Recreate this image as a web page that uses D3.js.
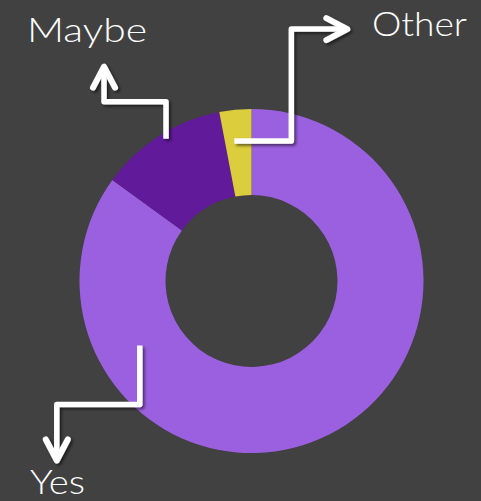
<!DOCTYPE html>
<html>
<head>
<meta charset="utf-8">
<script src="https://cdn.jsdelivr.net/npm/d3@7"></script>
<style>
  html, body { margin: 0; padding: 0; background: #414141; }
  svg { display: block; }
</style>
</head>
<body>
<svg id="chart" width="481" height="501"></svg>
<script>
// Survey answers (percent of respondents)
const categories = ["Yes", "Maybe", "Other"];
const values = [85, 12, 3];
const colors = ["#9b60df", "#611a99", "#dccd3c"];

// Callout layout: anchor on the ring (angle in degrees clockwise from top, radius in px),
// then elbow legs as [dx, dy] steps, then label start position and width.
const callouts = [
  { anchor: [240, 129], legs: [[0, 59], [-83, 0], [0, 56]], label: [30, 494], width: 55 },
  { anchor: [329, 166], legs: [[0, -37], [-62, 0], [0, -35]], label: [27, 42], width: 120 },
  { anchor: [353, 141], legs: [[57, 0], [0, -112], [56, 0]], label: [372, 36], width: 95 }
];

const W = 481, H = 501;
const cx = 251.5, cy = 281, rOuter = 172, rInner = 86;

const svg = d3.select("#chart");
svg.append("rect").attr("width", W).attr("height", H).attr("fill", "#414141");

const defs = svg.append("defs");
const f = defs.append("filter").attr("id", "shadow")
  .attr("x", "-20%").attr("y", "-20%").attr("width", "140%").attr("height", "140%");
f.append("feDropShadow").attr("dx", 2).attr("dy", 2).attr("stdDeviation", 1.8)
  .attr("flood-color", "#000").attr("flood-opacity", 0.55);

const pie = d3.pie().sort(null).value(d => d)(values);
const arc = d3.arc().innerRadius(rInner).outerRadius(rOuter);

const g = svg.append("g").attr("transform", `translate(${cx},${cy})`);
g.selectAll("path.slice")
  .data(pie)
  .join("path")
  .attr("class", "slice")
  .attr("d", arc)
  .attr("fill", (d, i) => colors[i]);

// Elbow arrows from each slice to its label
const ann = svg.append("g").attr("filter", "url(#shadow)");
callouts.forEach((c, i) => {
  const a = c.anchor[0] * Math.PI / 180;
  let x = cx + c.anchor[1] * Math.sin(a);
  let y = cy - c.anchor[1] * Math.cos(a);
  const pts = [[x, y]];
  c.legs.forEach(([dx, dy]) => { x += dx; y += dy; pts.push([x, y]); });
  ann.append("path")
    .attr("d", d3.line()(pts))
    .attr("fill", "none")
    .attr("stroke", "#fff")
    .attr("stroke-width", 5.5)
    .attr("stroke-linejoin", "round")
    .attr("stroke-linecap", "butt");
  // chevron head pointing along the last leg
  const [ldx, ldy] = c.legs[c.legs.length - 1];
  const len = Math.hypot(ldx, ldy);
  const ux = ldx / len, uy = ldy / len;
  const back = 21, half = 11;
  const tip = [x, y];
  const b1 = [x - ux * back - uy * half, y - uy * back + ux * half];
  const b2 = [x - ux * back + uy * half, y - uy * back - ux * half];
  ann.append("path")
    .attr("d", d3.line()([b1, tip, b2]))
    .attr("fill", "none")
    .attr("stroke", "#fff")
    .attr("stroke-width", 6)
    .attr("stroke-linejoin", "round")
    .attr("stroke-linecap", "round");
});

svg.selectAll("text.label")
  .data(categories)
  .join("text")
  .attr("class", "label")
  .attr("x", (d, i) => callouts[i].label[0])
  .attr("y", (d, i) => callouts[i].label[1])
  .attr("textLength", (d, i) => callouts[i].width)
  .attr("lengthAdjust", "spacingAndGlyphs")
  .attr("fill", "#fff")
  .attr("font-family", "Lato, 'DejaVu Sans', sans-serif")
  .attr("font-weight", 300)
  .attr("font-size", 33)
  .text(d => d);
</script>
</body>
</html>
